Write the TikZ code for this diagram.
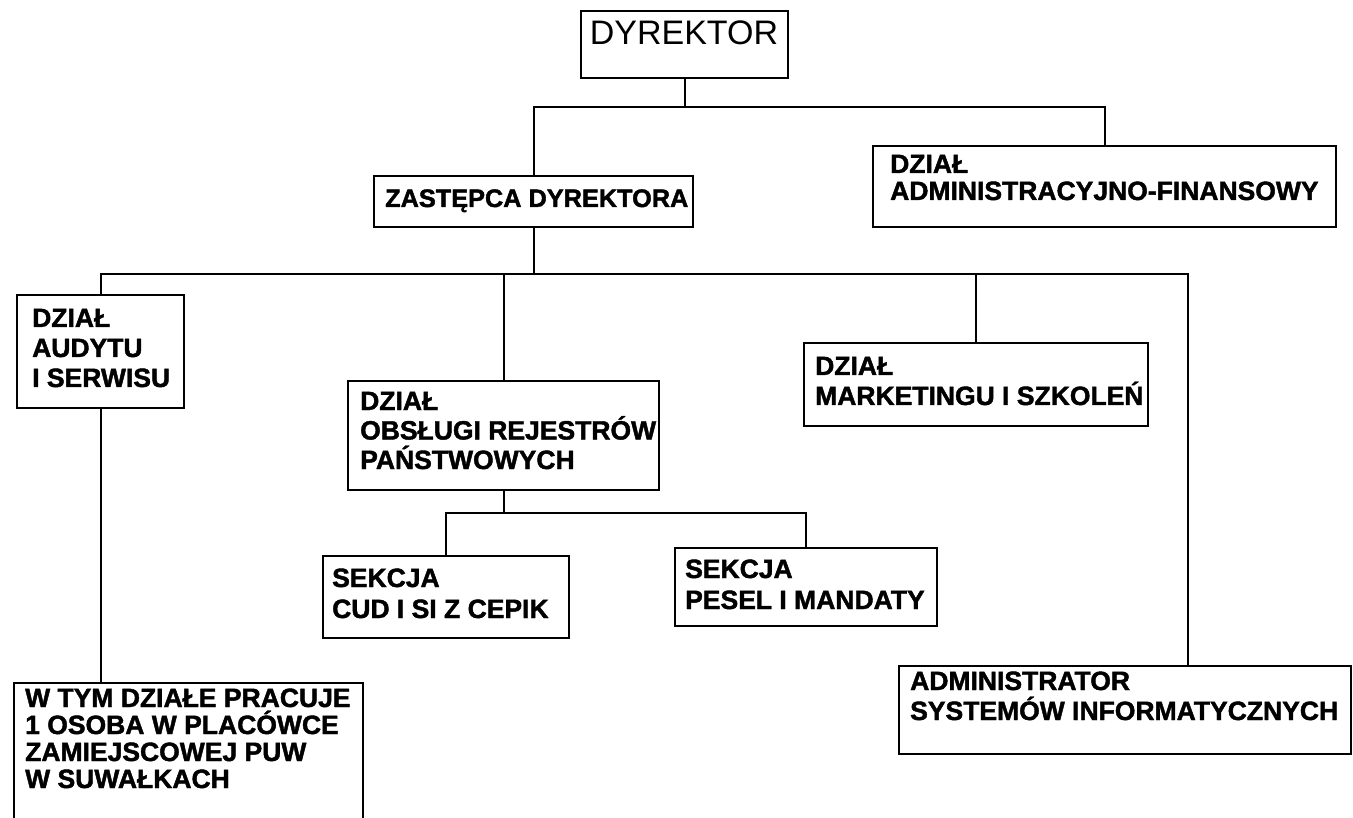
\documentclass[tikz,border=0pt]{standalone}
\usepackage{fontspec}
\setmainfont{Liberation Sans}[BoldFeatures={FakeBold=1.6}]
\usetikzlibrary{calc}
\tikzset{
  box/.style={draw=black, line width=2.2pt, rectangle, inner sep=0pt, anchor=north west},
  lbl/.style={inner sep=0pt, anchor=base west, align=left, text=black,
    font=\fontsize{26.5}{30}\selectfont\bfseries},
  conn/.style={draw=black, line width=2.2pt}
}
\begin{document}
\begin{tikzpicture}[x=1pt, y=-1pt]
\useasboundingbox[fill=white] (0,0) rectangle (1353,818);
% boxes
\node[box, minimum width=207pt, minimum height=67pt] (dyr) at (580,10) {};
\node[box, minimum width=319pt, minimum height=51pt] (zast) at (373,175) {};
\node[box, minimum width=463pt, minimum height=81pt] (admin) at (872,145) {};
\node[box, minimum width=167pt, minimum height=113pt] (audytu) at (16,294) {};
\node[box, minimum width=311pt, minimum height=109pt] (obsl) at (347,380) {};
\node[box, minimum width=344pt, minimum height=83pt] (mark) at (803,342) {};
\node[box, minimum width=246pt, minimum height=82pt] (cud) at (322,555) {};
\node[box, minimum width=262pt, minimum height=78pt] (pesel) at (674,547) {};
\node[box, minimum width=452pt, minimum height=88pt] (asys) at (898,665) {};
\node[box, minimum width=349pt, minimum height=150pt] (wtym) at (13,682) {};
% texts (anchored at the baseline of the last line)
\node[inner sep=0pt, anchor=base, font=\fontsize{34}{40}\selectfont] (dyr-t) at (684,45) {DYREKTOR};
\node[lbl, font=\fontsize{25.3}{30}\selectfont\bfseries] (zast-t) at (385,207) {ZASTĘPCA DYREKTORA};
\node[lbl, font=\fontsize{26.5}{27}\selectfont\bfseries] (admin-t) at (890,200) {DZIAŁ\\ADMINISTRACYJNO-FINANSOWY};
\node[lbl] (audytu-t) at (32,387) {DZIAŁ\\AUDYTU\\I SERWISU};
\node[lbl, font=\fontsize{26.5}{29.5}\selectfont\bfseries] (obsl-t) at (360,469) {DZIAŁ\\OBSŁUGI REJESTRÓW\\PAŃSTWOWYCH};
\node[lbl] (mark-t) at (815,405) {DZIAŁ\\MARKETINGU I SZKOLEŃ};
\node[lbl, font=\fontsize{26.5}{31}\selectfont\bfseries] (cud-t) at (332,618) {SEKCJA\\CUD I SI Z CEPIK};
\node[lbl, font=\fontsize{26.5}{31}\selectfont\bfseries] (pesel-t) at (685,609) {SEKCJA\\PESEL I MANDATY};
\node[lbl] (asys-t) at (910,720) {ADMINISTRATOR\\SYSTEMÓW INFORMATYCZNYCH};
\node[lbl, font=\fontsize{26.5}{27}\selectfont\bfseries] (wtym-t) at (25,788) {W TYM DZIAŁE PRACUJE\\1 OSOBA W PLACÓWCE\\ZAMIEJSCOWEJ PUW\\W SUWAŁKACH};
% junction levels
\coordinate (h1) at (0,107);
\coordinate (h2) at (0,274);
\coordinate (h3) at (0,513);
\coordinate (asysin) at ($(asys.north west)+(290,0)$);
\coordinate (wtymin) at (audytu.south |- wtym.north);
% connectors
\draw[conn] (dyr.south) -- (dyr.south |- h1);
\draw[conn] (zast.north) -- (zast.north |- h1) -- (admin.north |- h1) -- (admin.north);
\draw[conn] (zast.south) -- (zast.south |- h2);
\draw[conn] (audytu.north) -- (audytu.north |- h2) -- (asysin |- h2) -- (asysin);
\draw[conn] (obsl.north) -- (obsl.north |- h2);
\draw[conn] (mark.north) -- (mark.north |- h2);
\draw[conn] (audytu.south) -- (wtymin);
\draw[conn] (obsl.south) -- (obsl.south |- h3);
\draw[conn] (cud.north) -- (cud.north |- h3) -- (pesel.north |- h3) -- (pesel.north);
\end{tikzpicture}
\end{document}
